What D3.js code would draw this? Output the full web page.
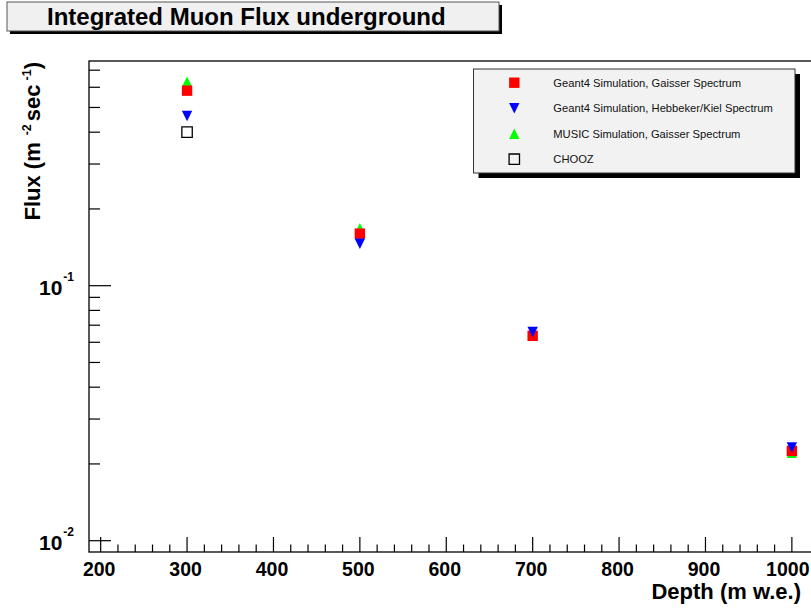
<!DOCTYPE html>
<html>
<head>
<meta charset="utf-8">
<script src="https://cdn.jsdelivr.net/npm/d3@7"></script>
<style>
  html, body { margin: 0; padding: 0; background: #fff; }
  svg { display: block; font-family: "Liberation Sans", Arial, Helvetica, sans-serif; }
</style>
</head>
<body>
<svg id="chart" width="811" height="608"></svg>
<script>
// Depth in metres water equivalent
const depths = [300, 500, 700, 1000];
// Integrated muon flux, m^-2 sec^-1
const g4Gaisser   = [0.582, 0.160, 0.0636, 0.0225];
const g4Hebbeker  = [0.463, 0.146, 0.0658, 0.0232];
const musicGaisser = [0.631, 0.168, 0.0662, 0.0221];
const choozDepths = [300];
const chooz       = [0.400];

const xMajorTicks = [200, 300, 400, 500, 600, 700, 800, 900, 1000];
const yDecades = [{v: 0.1, exp: "-1"}, {v: 0.01, exp: "-2"}];

const series = [
  {name: "MUSIC Simulation, Gaisser Spectrum", x: depths, y: musicGaisser, shape: "up", color: "#00ff00"},
  {name: "Geant4 Simulation, Gaisser Spectrum", x: depths, y: g4Gaisser, shape: "square", color: "#ff0000"},
  {name: "Geant4 Simulation, Hebbeker/Kiel Spectrum", x: depths, y: g4Hebbeker, shape: "down", color: "#0000ff"},
  {name: "CHOOZ", x: choozDepths, y: chooz, shape: "open", color: "#000000"}
];
const legendOrder = [1, 2, 0, 3];

const W = 811;
const frame = {left: 89, top: 61, right: 812, bottom: 552};

const svg = d3.select("#chart");

const x = d3.scaleLinear().domain([186.5, 1023.3]).range([frame.left, frame.right]);
const y = d3.scaleLog().domain([0.00903, 0.7606]).range([frame.bottom, frame.top]);

// frame
svg.append("rect")
  .attr("x", frame.left).attr("y", frame.top)
  .attr("width", frame.right - frame.left).attr("height", frame.bottom - frame.top)
  .attr("fill", "#fff").attr("stroke", "#000").attr("stroke-width", 1.3);

// x ticks (major every 100, minor every 20)
const xMinor = d3.range(200, 1001, 20).filter(v => v % 100 !== 0);
const gx = svg.append("g");
gx.selectAll("line.maj").data(xMajorTicks).join("line")
  .attr("x1", d => x(d)).attr("x2", d => x(d))
  .attr("y1", frame.bottom).attr("y2", frame.bottom - 15)
  .attr("stroke", "#000").attr("stroke-width", 1.2);
gx.selectAll("line.min").data(xMinor).join("line")
  .attr("x1", d => x(d)).attr("x2", d => x(d))
  .attr("y1", frame.bottom).attr("y2", frame.bottom - 7.5)
  .attr("stroke", "#000").attr("stroke-width", 1.2);
gx.selectAll("text").data(xMajorTicks).join("text")
  .attr("y", 576)
  .attr("text-anchor", "middle")
  .attr("font-size", 19.5).attr("font-weight", "bold")
  .text(d => d)
  .attr("x", function (d) {
    // keep the last label inside the canvas
    const half = this.getComputedTextLength() / 2;
    return Math.min(x(d) - 1.5, W - 1.5 - half);
  });

// y ticks (log)
const yMinor = [];
[0.01, 0.1].forEach(dec => {
  for (let k = 2; k <= 9; k++) {
    const v = dec * k;
    if (v >= y.domain()[0] && v <= y.domain()[1]) yMinor.push(v);
  }
});
const gy = svg.append("g");
gy.selectAll("line.maj").data(yDecades).join("line")
  .attr("x1", frame.left).attr("x2", frame.left + 22)
  .attr("y1", d => y(d.v)).attr("y2", d => y(d.v))
  .attr("stroke", "#000").attr("stroke-width", 1.2);
gy.selectAll("line.min").data(yMinor).join("line")
  .attr("x1", frame.left).attr("x2", frame.left + 11)
  .attr("y1", d => y(d)).attr("y2", d => y(d))
  .attr("stroke", "#000").attr("stroke-width", 1.2);
const yl = gy.selectAll("text").data(yDecades).join("text")
  .attr("x", 74).attr("y", d => y(d.v) + 9)
  .attr("text-anchor", "end")
  .attr("font-weight", "bold");
yl.append("tspan").attr("font-size", 21).text("10");
yl.append("tspan").attr("font-size", 12).attr("dx", 1).attr("dy", -14).text(d => d.exp);

// marker shapes around a centre point
const half = 5.2;
function markerPath(shape, cx, cy) {
  const h = half;
  if (shape === "up") return `M${cx},${cy - h}L${cx + h},${cy + h}L${cx - h},${cy + h}Z`;
  if (shape === "down") return `M${cx - h},${cy - h}L${cx + h},${cy - h}L${cx},${cy + h}Z`;
  return `M${cx - h},${cy - h}H${cx + h}V${cy + h}H${cx - h}Z`;
}
function styleMarker(sel, s) {
  sel.attr("fill", s.shape === "open" ? "none" : s.color)
    .attr("stroke", s.shape === "open" ? "#000" : "none")
    .attr("stroke-width", 1.3);
}
series.forEach(s => {
  const pts = s.x.map((d, i) => [x(d), y(s.y[i])]);
  svg.append("g").selectAll("path").data(pts).join("path")
    .attr("d", p => markerPath(s.shape, p[0], p[1]))
    .call(styleMarker, s);
});

// axis titles
svg.append("text")
  .attr("x", 801).attr("y", 599)
  .attr("text-anchor", "end")
  .attr("font-size", 22).attr("font-weight", "bold")
  .text("Depth (m w.e.)");

const yt = svg.append("text")
  .attr("transform", "translate(39.5,62) rotate(-90)")
  .attr("text-anchor", "end")
  .attr("font-size", 22).attr("font-weight", "bold");
yt.append("tspan").text("Flux (m");
yt.append("tspan").attr("font-size", 12.5).attr("dx", 7).attr("dy", -9).text("-2");
yt.append("tspan").attr("dx", 3).attr("dy", 9).text("sec");
yt.append("tspan").attr("font-size", 12.5).attr("dx", 4).attr("dy", -9).text("-1");
yt.append("tspan").attr("dy", 9).text(")");

// title box with shadow
svg.append("rect").attr("x", 10).attr("y", 5).attr("width", 492).attr("height", 29).attr("fill", "#000");
svg.append("rect").attr("x", 7).attr("y", 2).attr("width", 492).attr("height", 29)
  .attr("fill", "#f0f0f0").attr("stroke", "#555").attr("stroke-width", 1);
svg.append("text")
  .attr("x", 47).attr("y", 25)
  .attr("font-size", 24).attr("font-weight", "bold")
  .text("Integrated Muon Flux underground");

// legend with shadow
const lg = {x: 473.5, y: 69, w: 321.5, h: 104};
svg.append("rect").attr("x", lg.x + 5).attr("y", lg.y + 5).attr("width", lg.w).attr("height", lg.h).attr("fill", "#000");
svg.append("rect").attr("x", lg.x).attr("y", lg.y).attr("width", lg.w).attr("height", lg.h)
  .attr("fill", "#f2f2f2").attr("stroke", "#333").attr("stroke-width", 1);
const rowY = i => 82.7 + i * 25.5;
legendOrder.forEach((si, i) => {
  const s = series[si];
  svg.append("path")
    .attr("d", markerPath(s.shape, 514.3, rowY(i)))
    .call(styleMarker, s);
  svg.append("text")
    .attr("x", 553.3).attr("y", rowY(i) + 4)
    .attr("font-size", 11.2).attr("fill", "#111")
    .text(s.name);
});
</script>
</body>
</html>
